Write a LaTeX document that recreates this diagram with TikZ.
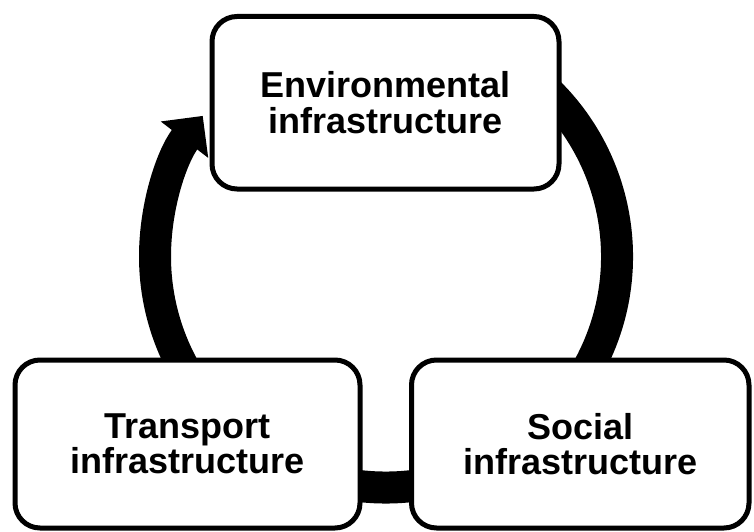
\documentclass[tikz,border=0pt]{standalone}
\usepackage{fontspec}
\setmainfont{Liberation Sans}
\usetikzlibrary{arrows.meta}
\begin{document}
\begin{tikzpicture}[x=1pt, y=1pt, every node/.style={draw, fill=white, rounded corners=25pt, line width=5pt, align=center, font=\bfseries\fontsize{36}{35.5}\selectfont}]

	\useasboundingbox (0,0) rectangle (754,531);

	\coordinate (hub) at (386,274.5);
	\draw[line width=32pt, -{Triangle[length=30pt, width=58pt]}] ([shift={(60:231)}]hub) arc[start angle=60, end angle=-217.5, radius=231];

	\node[minimum width=347pt, minimum height=172.5pt] (environmental) at (385.5,428.25) {Environmental\\infrastructure};
	\node[minimum width=345pt, minimum height=168pt] (transport) at (187.5,87) {Transport\\infrastructure};
	\node[minimum width=337.5pt, minimum height=168pt] (social) at (580.25,87) {Social\\infrastructure};
\end{tikzpicture}
\end{document}
